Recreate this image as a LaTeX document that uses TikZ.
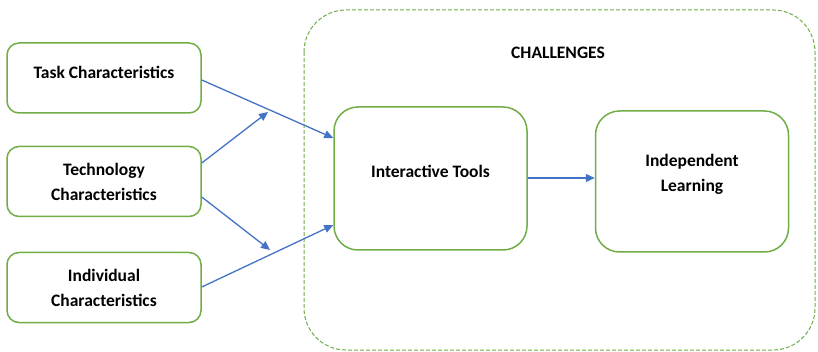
\documentclass[tikz,border=0pt]{standalone}
\usepackage{fontspec}
\setmainfont{Carlito}
\usetikzlibrary{arrows.meta}
\definecolor{boxgreen}{HTML}{70AD47}
\definecolor{linkblue}{HTML}{4472C4}
\newcommand{\labelfont}{\bfseries\fontsize{17.5}{25}\selectfont}
\tikzset{
  factor/.style={draw=boxgreen, line width=1.5pt, rounded corners=12pt, fill=white,
    minimum width=194pt, minimum height=70pt, align=center, font=\labelfont},
  bigbox/.style={draw=boxgreen, line width=1.5pt, rounded corners=24pt, fill=white,
    minimum width=193pt, minimum height=143pt, align=center, font=\labelfont},
  caption/.style={font=\labelfont, inner sep=0pt},
  link/.style={draw=linkblue, line width=1.3pt, -{Triangle[length=9pt,width=8pt]}},
  group/.style={draw=boxgreen, line width=1pt, dashed, dash pattern=on 4pt off 2pt, rounded corners=42pt}
}
\begin{document}
\begin{tikzpicture}[x=1pt,y=-1pt]
  \useasboundingbox (0,0) rectangle (818,352);
  \begin{scope}
    \clip (0,0) rectangle (818,352);
    \draw[group] (304,10) rectangle (815,350);
  \end{scope}
  \node[caption] (title) at (558,53) {CHALLENGES};

  \node[factor] (task) at (104,78) {};
  \node[caption] (tasktext) at (104,72) {Task Characteristics};
  \node[factor] (tech) at (104,181.5) {Technology\\Characteristics};
  \node[factor] (indiv) at (104,287.5) {Individual\\Characteristics};

  \node[bigbox] (tools) at (430.5,178.5) {};
  \node[caption] (toolstext) at (430.5,171) {Interactive Tools};
  \node[bigbox, minimum height=141pt] (learn) at (692,181.5) {};
  \node[caption, align=center] (learntext) at (692,174.5) {Independent\\Learning};

  \coordinate (t1) at (268,112);
  \coordinate (t2) at (270,250);
  \draw[link] (task.east |- 0,80) -- (tools.west |- 0,138);
  \draw[link] (tech.east |- 0,163) -- (t1);
  \draw[link] (tech.east |- 0,197) -- (t2);
  \draw[link] (indiv.east |- 0,287) -- (tools.west |- 0,225);
  \draw[link] (tools.east |- 0,178) -- (learn.west |- 0,178);
\end{tikzpicture}
\end{document}
